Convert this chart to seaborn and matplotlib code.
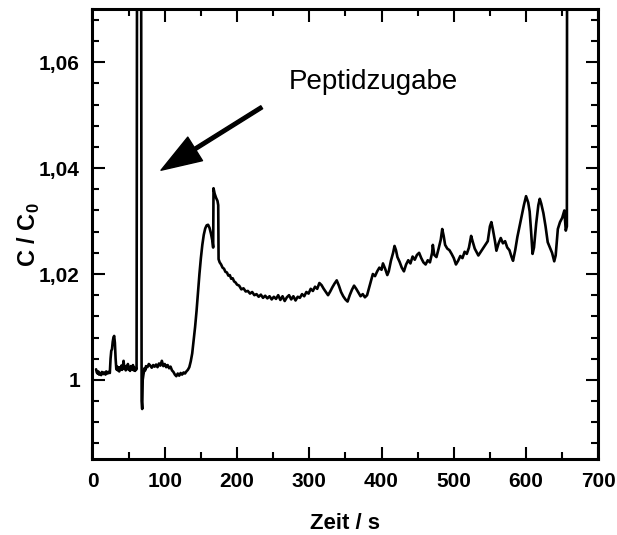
import seaborn as sns
import matplotlib.pyplot as plt
from matplotlib.ticker import FixedLocator, MultipleLocator
import pandas as pd

# time (s) and normalized concentration
zeit = [5, 6, 7, 8, 9, 10, 12, 13, 15, 16, 18, 19, 21, 22, 24,
        25, 26, 27, 28, 29, 30, 31, 32, 33,
        34, 35, 36, 37, 38, 39, 40, 41, 42, 43, 44, 45, 46, 47, 48, 49, 50,
        51, 52, 53, 54, 55, 56, 57, 58, 59, 60, 61,
        62, 67, 68, 68.8, 69.5, 70.5, 72, 73,
        74, 76, 78, 80, 82, 84, 86, 88, 90, 92, 94, 96, 98, 100, 102, 104,
        106, 108, 110, 112, 114, 116, 118, 120, 122, 124, 126, 128, 130, 132,
        134, 136, 138, 140, 142, 144, 146, 148, 150, 152, 154, 156, 158, 160,
        162, 164, 166, 167, 167.5, 169, 171, 173, 174, 174.5, 176, 178, 180,
        182, 184, 186, 188, 190, 192, 194, 196, 198, 200, 203, 206, 209, 212,
        215, 218, 221, 224, 227, 230, 233, 236, 239, 242, 245, 248, 251, 254,
        257, 260, 263, 266, 269, 272, 275, 278, 281, 284, 287, 290, 293, 296,
        299, 302, 305, 308, 311, 314, 317, 320, 323, 326, 329, 332, 335, 338,
        341, 344, 347, 350, 353, 356, 359, 362, 365, 368, 371, 374, 377, 380,
        383, 386, 388, 391, 394, 397, 400, 402, 405, 408, 410, 413, 416, 418,
        420, 422, 425, 428, 431, 434, 437, 440, 443, 446, 449, 452, 455, 458,
        461, 464, 467, 470, 471, 473, 476, 479, 482, 484, 486, 488, 491, 494,
        497, 500, 503, 506, 509, 512, 515, 518, 521, 524, 526, 529, 532, 534,
        547, 550, 552, 554, 557, 559, 562, 565, 568, 571, 574, 577, 580, 582,
        585, 588, 591, 594, 597, 600, 603, 605, 607, 609, 611, 614, 617, 619,
        621, 624, 627, 630, 633, 636, 639, 641, 644, 647, 650, 653, 655, 656.5,
        657]
c_c0 = [1.0020, 1.0014, 1.0012, 1.0016, 1.0010, 1.0013, 1.0009, 1.0015, 1.0011,
        1.0014, 1.0010, 1.0016, 1.0012, 1.0015, 1.0013,
        1.0040, 1.0055, 1.0058, 1.0072, 1.0080, 1.0083, 1.0070, 1.0040, 1.0020,
        1.0025, 1.0018, 1.0024, 1.0016, 1.0023, 1.0020, 1.0027, 1.0019, 1.0024,
        1.0036, 1.0022, 1.0026, 1.0018, 1.0025, 1.0021, 1.0030, 1.0019,
        1.0024, 1.0017, 1.0026, 1.0022, 1.0020, 1.0028, 1.0018, 1.0023, 1.0017,
        1.0022, 1.0020,
        1.12, 1.12, 0.9960, 0.9945, 1.0000, 1.0010, 1.0022, 1.0018,
        1.0026, 1.0024, 1.0030, 1.0027, 1.0023, 1.0028, 1.0025, 1.0029, 1.0024,
        1.0031, 1.0027, 1.0036, 1.0026, 1.0030, 1.0024, 1.0028,
        1.0022, 1.0025, 1.0018, 1.0015, 1.0010, 1.0007, 1.0012, 1.0008, 1.0013,
        1.0010, 1.0014, 1.0012, 1.0016, 1.0019,
        1.0024, 1.0035, 1.0050, 1.0075, 1.0100, 1.0130, 1.0165, 1.0200, 1.0230,
        1.0255, 1.0274, 1.0286, 1.0292, 1.0293,
        1.0287, 1.0276, 1.0262, 1.0250, 1.0362, 1.0352, 1.0344, 1.0338, 1.0330,
        1.0228, 1.0222, 1.0218, 1.0212,
        1.0210, 1.0204, 1.0203, 1.0197, 1.0198, 1.0191, 1.0192, 1.0186, 1.0184,
        1.0180, 1.0178, 1.0171, 1.0173, 1.0167,
        1.0168, 1.0163, 1.0166, 1.0160, 1.0162, 1.0157, 1.0161, 1.0155, 1.0159,
        1.0154, 1.0158, 1.0152, 1.0157, 1.0153,
        1.0160, 1.0151, 1.0158, 1.0149, 1.0156, 1.0160, 1.0152, 1.0158, 1.0150,
        1.0157, 1.0155, 1.0162, 1.0158, 1.0166,
        1.0163, 1.0172, 1.0168, 1.0176, 1.0172, 1.0183, 1.0179, 1.0172, 1.0166,
        1.0160, 1.0167, 1.0175, 1.0182, 1.0188,
        1.0178, 1.0166, 1.0158, 1.0152, 1.0148, 1.0160, 1.0170, 1.0178, 1.0172,
        1.0165, 1.0158, 1.0162, 1.0156, 1.0160,
        1.0175, 1.0190, 1.0200, 1.0196, 1.0205, 1.0212, 1.0208, 1.0220, 1.0210,
        1.0198, 1.0205, 1.0225, 1.0240, 1.0253,
        1.0245, 1.0232, 1.0223, 1.0212, 1.0205, 1.0218, 1.0226, 1.0220, 1.0233,
        1.0227, 1.0236, 1.0240, 1.0230, 1.0222,
        1.0218, 1.0226, 1.0222, 1.0240, 1.0255, 1.0236, 1.0232, 1.0248, 1.0265,
        1.0285, 1.0272, 1.0255, 1.0248, 1.0245,
        1.0238, 1.0230, 1.0218, 1.0225, 1.0234, 1.0230, 1.0242, 1.0238, 1.0250,
        1.0272, 1.0262, 1.0248, 1.0240, 1.0235,
        1.0262, 1.0290, 1.0298, 1.0285, 1.0262, 1.0244, 1.0258, 1.0268, 1.0258,
        1.0262, 1.0250, 1.0245, 1.0232, 1.0225,
        1.0245, 1.0270, 1.0290, 1.0310, 1.0330, 1.0347, 1.0335, 1.0318, 1.0280,
        1.0238, 1.0250, 1.0295, 1.0330, 1.0342,
        1.0333, 1.0315, 1.0290, 1.0260, 1.0250, 1.0240, 1.0224, 1.0235, 1.0285,
        1.0298, 1.0306, 1.0320, 1.0282, 1.0290,
        1.12]

x_ticks = [0, 100, 200, 300, 400, 500, 600, 700]
y_ticks = [1.00, 1.02, 1.04, 1.06]
y_tick_labels = ["1", "1,02", "1,04", "1,06"]

df = pd.DataFrame({"zeit": zeit, "c": c_c0})

sns.set_style("ticks")
plt.rcParams["font.family"] = ["Liberation Sans", "DejaVu Sans"]
plt.rcParams["mathtext.fontset"] = "custom"
plt.rcParams["mathtext.rm"] = "Liberation Sans:bold"
plt.rcParams["mathtext.bf"] = "Liberation Sans:bold"
plt.rcParams["text.color"] = "black"
plt.rcParams["axes.labelcolor"] = "black"

fig = plt.figure(figsize=(6.17, 5.35), dpi=100)
ax = fig.add_axes([0.1499, 0.1415, 0.8198, 0.8411])

sns.lineplot(data=df, x="zeit", y="c", ax=ax, color="black", linewidth=1.9,
             estimator=None, sort=False)

ax.set_xlim(0, 700)
ax.set_ylim(0.985, 1.07)
ax.xaxis.set_major_locator(FixedLocator(x_ticks))
ax.xaxis.set_minor_locator(MultipleLocator(50))
ax.yaxis.set_major_locator(FixedLocator(y_ticks))
ax.set_yticklabels(y_tick_labels)
ax.yaxis.set_minor_locator(MultipleLocator(0.004))

for lbl in ax.get_xticklabels() + ax.get_yticklabels():
    lbl.set_fontweight("bold")
ax.tick_params(which="both", direction="in", top=True, right=True,
               labelsize=15, width=1.5, colors="black")
ax.tick_params(which="major", length=9, pad=9)
ax.tick_params(which="minor", length=5)
for s in ax.spines.values():
    s.set_linewidth(2.2)
    s.set_color("black")

ax.set_xlabel("Zeit / s", fontsize=16, fontweight="bold", labelpad=16)
ax.set_ylabel(r"C / C$_\mathregular{0}$", fontsize=17, fontweight="bold", labelpad=-2)

# arrow pointing at the injection
ax.annotate("", xy=(94.8, 1.0396), xytext=(234.2, 1.0515),
            arrowprops=dict(facecolor="black", edgecolor="black", width=2.5,
                            headwidth=20, headlength=29, shrink=0))
ax.text(272, 1.0562, "Peptidzugabe", fontsize=20, va="center", ha="left")

fig.savefig("out.png", dpi=100)
